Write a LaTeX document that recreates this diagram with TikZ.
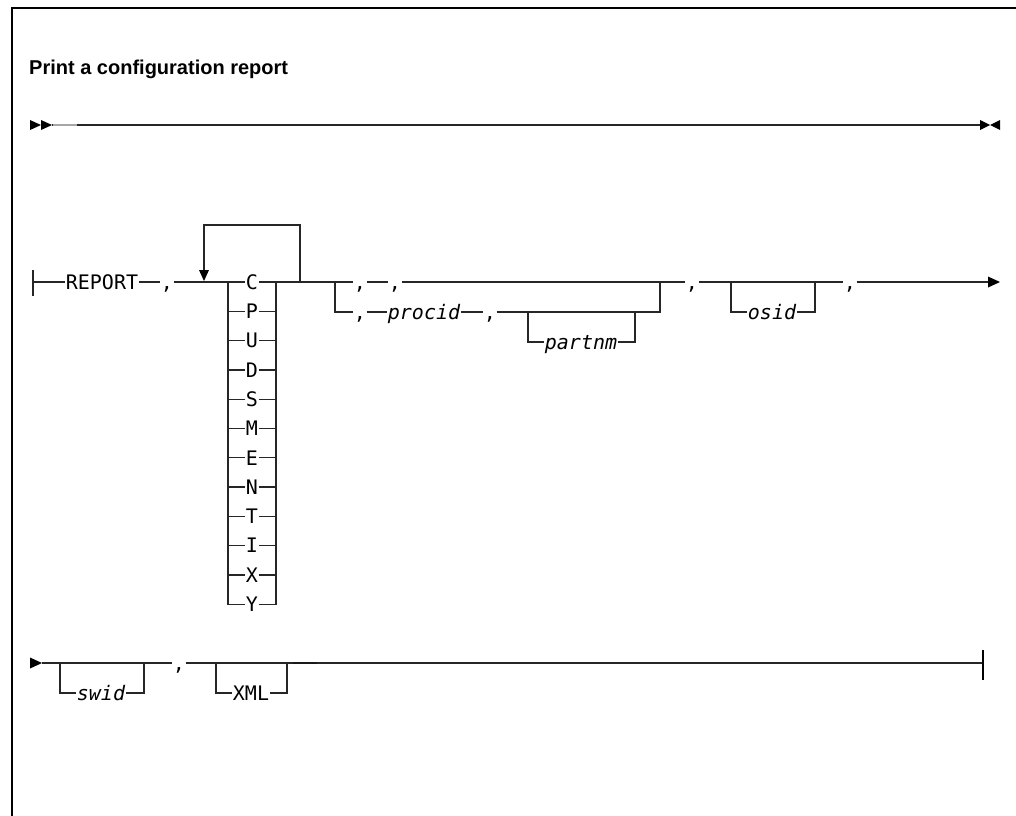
\documentclass[tikz,border=0pt]{standalone}
\usepackage{fontspec}
\setmainfont{Liberation Sans}
\newfontfamily\mono{DejaVu Sans Mono}
\begin{document}
\begin{tikzpicture}[x=1pt,y=-1pt,
  rr/.style={line width=1.3pt, draw=black!85},
  lbl/.style={inner xsep=0.5pt, inner ysep=0pt, text height=14.5pt, text depth=0pt, font=\mono\fontsize{20}{20}\selectfont},
  ilbl/.style={lbl, font=\mono\itshape\fontsize{20}{20}\selectfont},
  tipf/.style={fill=black, draw=none}]
\useasboundingbox (0,0) rectangle (1016,815);
% frame
\draw[line width=1.5pt] (12,816) -- (12,8) -- (1017,8);
% title
\node[anchor=base west, inner sep=0pt, font=\bfseries\fontsize{20}{20}\selectfont] (title) at (29,74) {Print a configuration report};

% ---------- row 1 ----------
\coordinate (s1) at (52,125);
\coordinate (e1) at (980,125);
\fill[tipf] (30,120) -- (41,125) -- (30,130) -- cycle;
\fill[tipf] (41,120) -- (52,125) -- (41,130) -- cycle;
\draw[rr] (s1) -- (e1);
\draw[line width=1.3pt, gray!70] (53,125) -- (77,125);
\fill[tipf] (980,120) -- (990,125) -- (980,130) -- cycle;
\fill[tipf] (1000,120) -- (990,125) -- (1000,130) -- cycle;

% ---------- row 2 ----------
\coordinate (b2) at (33,282);
\draw[rr] (33,270) -- (33,296);
\node[lbl] (rep) at (102,282) {REPORT};
\node[lbl] (c1) at (167,282) {,};
\foreach \l [count=\i from 0] in {C,P,U,D,S,M,E,N,T,I,X,Y} {
  \node[lbl] (L\i) at (252,282+\i*29.3) {\l};
}
\draw[rr] (b2) -- (rep.west);
\draw[rr] (rep.east) -- (c1.west);
\draw[rr] (c1.east) -- (L0.west);
% column
\draw[rr] (L0.west -| 228,0) -- (L11.west -| 228,0) -- (L11.west);
\draw[rr] (L11.east) -- (L11.east -| 276,0) -- (L0.east -| 276,0);
\foreach \i in {1,...,10} {
  \draw[rr] (L\i.west -| 228,0) -- (L\i.west);
  \draw[rr] (L\i.east) -- (L\i.east -| 276,0);
}
% repeat loop
\coordinate (lp) at (300,282);
\draw[rr] (lp) -- (300,225) -- (204,225) -- (204,271);
\fill[tipf] (199,270) -- (209,270) -- (204,281) -- cycle;

% choice block
\coordinate (j1) at (335,282);
\coordinate (j2) at (660,282);
\draw[rr] (L0.east) -- (j1);
\node[lbl] (t1) at (360,282) {,};
\node[lbl] (t2) at (395,282) {,};
\draw[rr] (j1) -- (t1.west);
\draw[rr] (t1.east) -- (t2.west);
\draw[rr] (t2.east) -- (j2);
\node[lbl] (bc1) at (360,312) {,};
\node[ilbl] (procid) at (424,312) {procid};
\node[lbl] (bc2) at (490,312) {,};
\node[ilbl] (partnm) at (581,342) {partnm};
\draw[rr] (j1) -- (335,312) -- (bc1.west);
\draw[rr] (bc1.east) -- (procid.west);
\draw[rr] (procid.east) -- (bc2.west);
\draw[rr] (bc2.east) -- (660,312) -- (j2);
\draw[rr] (528,312) -- (528,342) -- (partnm.west);
\draw[rr] (partnm.east) -- (635,342) -- (635,312);

% osid
\node[lbl] (c3) at (692,282) {,};
\node[ilbl] (osid) at (772,312) {osid};
\node[lbl] (c4) at (850,282) {,};
\coordinate (ar2) at (989,282);
\draw[rr] (j2) -- (c3.west);
\draw[rr] (c3.east) -- (c4.west);
\draw[rr] (731,282) -- (731,312) -- (osid.west);
\draw[rr] (osid.east) -- (815,312) -- (815,282);
\draw[rr] (c4.east) -- (ar2);
\fill[tipf] (988,276.5) -- (1000,282) -- (988,287.5) -- cycle;

% ---------- row 3 ----------
\fill[tipf] (30,657.5) -- (42,663) -- (30,668.5) -- cycle;
\coordinate (s3) at (42,663);
\coordinate (e3) at (983,663);
\node[ilbl] (swid) at (101,693) {swid};
\node[lbl] (c5) at (179,663) {,};
\node[lbl] (xml) at (251,693) {XML};
\draw[rr] (s3) -- (c5.west);
\draw[rr] (c5.east) -- (e3);
\draw[line width=1.8pt, black!90] (293,663) -- (317,663);
\draw[rr] (60,663) -- (60,693) -- (swid.west);
\draw[rr] (swid.east) -- (144,693) -- (144,663);
\draw[rr] (216,663) -- (216,693) -- (xml.west);
\draw[rr] (xml.east) -- (287,693) -- (287,663);
\draw[line width=1.3pt] (983,650) -- (983,680);
\end{tikzpicture}
\end{document}
